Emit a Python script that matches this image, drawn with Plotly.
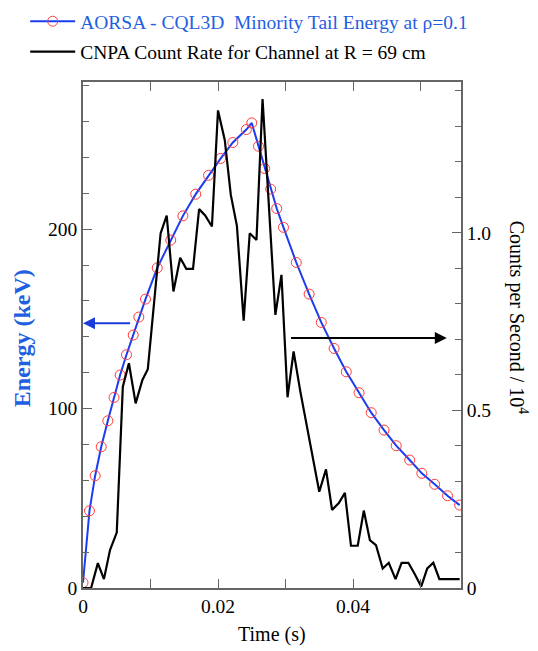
import plotly.graph_objects as go

# AORSA-CQL3D minority tail energy (keV) vs time (s)
t_energy = [0.0, 0.00096, 0.0018, 0.0027, 0.00368, 0.0046, 0.0055, 0.00644, 0.00744,
            0.00827, 0.00926, 0.0110, 0.0130, 0.0148, 0.0167, 0.0186, 0.0204, 0.0222,
            0.0242, 0.0250, 0.0260, 0.0269, 0.0278, 0.0287, 0.0297, 0.0316, 0.0335,
            0.0353, 0.0372, 0.0390, 0.0409, 0.0427, 0.0446, 0.0464, 0.0484, 0.0502,
            0.0521, 0.0540, 0.0558]
energy = [3, 43, 62.6, 78.7, 93.2, 106.2, 118.7, 130, 141,
          151, 161, 178.4, 193.9, 207.4, 219.5, 230, 239.4, 248.3,
          255.5, 259.2, 246.2, 233.8, 222.3, 211.5, 201, 181.4, 163.8,
          148, 133.5, 120.5, 108.8, 97.7, 88, 79.3, 71.3, 63.9,
          57.8, 51.4, 46.2]

# CNPA count rate (counts per second / 1e4)
t_cnpa = [0.0, 0.0012, 0.0022, 0.0031, 0.0040, 0.0050, 0.0059, 0.0068, 0.0078, 0.0088,
          0.0096, 0.0115, 0.0124, 0.0134, 0.0144, 0.0153, 0.0163, 0.0172, 0.0181, 0.0191,
          0.0200, 0.0210, 0.0219, 0.0228, 0.0238, 0.0247, 0.0257, 0.0266, 0.0285, 0.0294,
          0.0303, 0.0312, 0.0322, 0.0350, 0.0360, 0.0369, 0.0379, 0.0388, 0.0397, 0.0407,
          0.0416, 0.0425, 0.0434, 0.0444, 0.0453, 0.0463, 0.0472, 0.0482, 0.0491, 0.0501,
          0.0510, 0.0519, 0.0528, 0.0558]
counts = [0.0, 0.0, 0.07, 0.025, 0.107, 0.156, 0.567, 0.633, 0.52, 0.586,
          0.616, 0.999, 1.049, 0.835, 0.93, 0.899, 0.899, 1.067, 1.049, 1.018,
          1.345, 1.262, 1.107, 1.02, 0.753, 0.999, 0.98, 1.377, 0.769, 0.882,
          0.537, 0.666, 0.553, 0.271, 0.334, 0.22, 0.239, 0.268, 0.119, 0.119,
          0.218, 0.135, 0.121, 0.055, 0.071, 0.025, 0.071, 0.071, 0.041, 0.004,
          0.055, 0.071, 0.025, 0.025]

x_ticks = [0, 0.02, 0.04]
x_ticklabels = ["0", "0.02", "0.04"]
y_ticks = [0, 100, 200]
y_ticklabels = ["0", "100", "200"]
y2_ticks = [0, 0.5, 1.0]
y2_ticklabels = ["0", "0.5", "1.0"]

FONT = "Liberation Serif, Times New Roman, serif"
BLUE = "#1c3cf0"
TEXT_BLUE = "#1f5fe0"
AXIS = "#666666"

fig = go.Figure()
fig.add_trace(go.Scatter(
    x=t_cnpa, y=counts, yaxis="y2", mode="lines",
    line=dict(color="black", width=2.2),
    name="CNPA Count Rate for Channel at R = 69 cm",
    legendrank=2, legendgroup="b",
))
fig.add_trace(go.Scatter(
    x=t_energy, y=energy, mode="lines+markers",
    line=dict(color=BLUE, width=2),
    marker=dict(symbol="circle-open", size=10, color="#ff3b3b", line=dict(width=1)),
    name="<span style='color:%s'>AORSA - CQL3D  Minority Tail Energy at ρ=0.1</span>" % TEXT_BLUE,
    legendrank=1, legendgroup="a",
))

axis_common = dict(
    showgrid=False, zeroline=False, showline=True, linecolor=AXIS, linewidth=1.5,
    ticks="inside", ticklen=9, tickcolor=AXIS, tickwidth=1,
    tickfont=dict(family=FONT, size=19.5, color="black"),
)

# the page body has an 8px margin, so the figure is 8px smaller and shifted
fig.update_layout(
    width=530, height=643,
    margin=dict(l=75, r=77, t=74, b=63, autoexpand=False),
    paper_bgcolor="white", plot_bgcolor="white",
    font=dict(family=FONT, size=19, color="black"),
    showlegend=True,
    legend=dict(x=-0.153, y=1.158, xanchor="left", yanchor="top",
                font=dict(family=FONT, size=19.5), tracegroupgap=2,
                itemwidth=45, bgcolor="rgba(0,0,0,0)"),
    xaxis=dict(range=[0, 0.056], tickvals=x_ticks, ticktext=x_ticklabels,
               mirror="ticks",
               minor=dict(dtick=0.01, ticks="inside", ticklen=9, tickcolor=AXIS),
               **axis_common),
    yaxis=dict(range=[0, 282], tickvals=y_ticks, ticktext=y_ticklabels,
               minor=dict(dtick=20, ticks="inside", ticklen=6, tickcolor=AXIS),
               **axis_common),
    yaxis2=dict(range=[0, 1.425], tickvals=y2_ticks, ticktext=y2_ticklabels,
                overlaying="y", side="right",
                minor=dict(dtick=0.1, ticks="inside", ticklen=6, tickcolor=AXIS),
                **axis_common),
)

fig.add_annotation(text="<b>Energy (keV)</b>", xref="paper", yref="paper",
                   x=-0.161, y=0.494, xanchor="center", yanchor="middle",
                   textangle=-90, showarrow=False,
                   font=dict(family=FONT, size=24, color=TEXT_BLUE))
fig.add_annotation(text="Counts per Second / 10<sup>4</sup>", xref="paper", yref="paper",
                   x=1.151, y=0.534, xanchor="center", yanchor="middle",
                   textangle=90, showarrow=False,
                   font=dict(family=FONT, size=20, color="black"))
fig.add_annotation(text="Time (s)", xref="paper", yref="paper",
                   x=0.5, y=-0.091, xanchor="center", yanchor="middle",
                   showarrow=False,
                   font=dict(family=FONT, size=20, color="black"))

# direction arrows
fig.add_annotation(x=0, y=147.6, ax=0.0072, ay=147.6, xref="x", yref="y",
                   axref="x", ayref="y", text="", showarrow=True,
                   arrowhead=2, arrowsize=1.2, arrowwidth=2, arrowcolor="#1a3cd8")
fig.add_annotation(x=0.0539, y=0.704, ax=0.0306, ay=0.704, xref="x", yref="y2",
                   axref="x", ayref="y2", text="", showarrow=True,
                   arrowhead=2, arrowsize=1.2, arrowwidth=2, arrowcolor="black")

fig.write_html("out.html")
